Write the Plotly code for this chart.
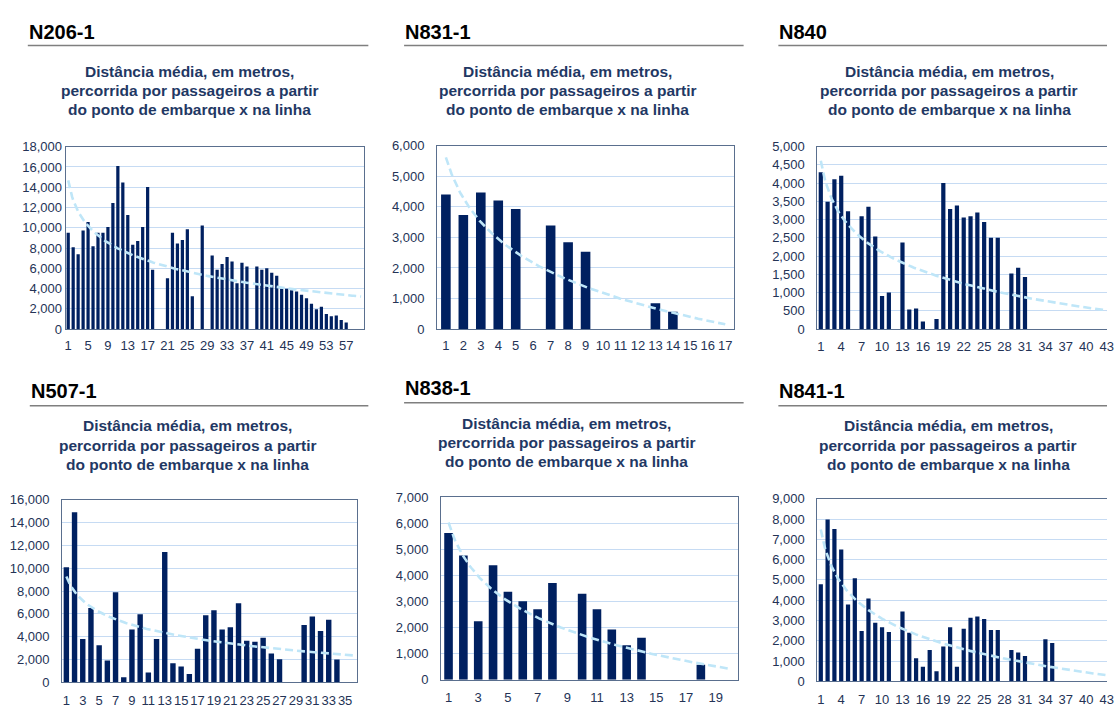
import numpy as np
import plotly.graph_objects as go

# ---------------- data ----------------
route_names = ["N206-1", "N831-1", "N840", "N507-1", "N838-1", "N841-1"]
subtitle_lines = ["Distância média, em metros,",
                  "percorrida por passageiros a partir",
                  "do ponto de embarque x na linha"]

n206_1 = [9500, 8080, 7375, 9725, 10560, 8180, 9500, 9500, 10080, 12430,
          16100, 14460, 11270, 8310, 8700, 10080, 14010, 5860, 0, 0,
          5020, 9500, 8440, 8790, 9850, 3250, 0, 10210, 0, 7250,
          5860, 6410, 7120, 6670, 4510, 6540, 6180, 0, 6180, 5860,
          5990, 5570, 5250, 3990, 3990, 3830, 3700, 3380, 3030, 2510,
          1960, 2190, 1480, 1260, 1350, 900, 640, 0, 0, 0]
n831_1 = [4400, 3735, 4470, 4205, 3930, 0, 3385, 2840, 2530, 0,
          0, 0, 845, 565, 0, 0, 0]
n840 = [4300, 3490, 4105, 4200, 3230, 0, 3095, 3355, 2540, 905,
        1000, 0, 2370, 537, 565, 205, 0, 275, 4005, 3290,
        3390, 3060, 3095, 3195, 2935, 2505, 2505, 0, 1520, 1680,
        1430, 0, 0, 0, 0, 0, 0, 0, 0, 0,
        0, 0, 0, 0, 0]
n507_1 = [10080, 14910, 3800, 6510, 3260, 1910, 7890, 460, 4630, 5970,
          860, 3800, 11430, 1690, 1400, 740, 2940, 5890, 6310, 4630,
          4830, 6940, 3660, 3570, 3910, 2540, 2030, 0, 0, 5030,
          5770, 4510, 5490, 2000, 0, 0]
n838_1 = [5625, 4760, 2240, 4390, 3375, 3010, 2700, 3710, 0, 3300,
          2700, 1925, 1325, 1610, 0, 0, 0, 575, 0, 0]
n841_1 = [4790, 7975, 7510, 6495, 3795, 5080, 2490, 4085, 2895, 2670,
          2430, 0, 3440, 2395, 1140, 725, 1545, 500, 1720, 2670,
          725, 2600, 3135, 3200, 3070, 2540, 2540, 0, 1545, 1430,
          1255, 0, 0, 2075, 1900, 0, 0, 0, 0, 0,
          0, 0, 0, 0, 0]

ticks_n206_1 = [1, 5, 9, 13, 17, 21, 25, 29, 33, 37, 41, 45, 49, 53, 57]
ticks_n831_1 = [1, 2, 3, 4, 5, 6, 7, 8, 9, 10, 11, 12, 13, 14, 15, 16, 17]
ticks_n840 = [1, 4, 7, 10, 13, 16, 19, 22, 25, 28, 31, 34, 37, 40, 43]
ticks_n507_1 = [1, 3, 5, 7, 9, 11, 13, 15, 17, 19, 21, 23, 25, 27, 29, 31, 33, 35]
ticks_n838_1 = [1, 3, 5, 7, 9, 11, 13, 15, 17, 19]
ticks_n841_1 = [1, 4, 7, 10, 13, 16, 19, 22, 25, 28, 31, 34, 37, 40, 43]

y_max = [18000, 6000, 5000, 16000, 7000, 9000]
y_step = [2000, 1000, 500, 2000, 1000, 1000]

series = [n206_1, n831_1, n840, n507_1, n838_1, n841_1]
xticks = [ticks_n206_1, ticks_n831_1, ticks_n840, ticks_n507_1, ticks_n838_1, ticks_n841_1]

# ---------------- layout config (pixels) ----------------
W, H = 1114, 711
FONT = "Liberation Sans, Arial, sans-serif"
BAR = "#002060"
TREND = "#bfe6f8"
GRID = "#c6dbf3"
BORDER = "#5a6f8e"
TICKC = "#243356"
SUBC = "#1f3864"

# left, right, top, bottom of plot box
boxes = [(65.2, 365.2, 142.7, 329), (439.3, 738.3, 141.7, 329), (822.3, 1114, 142.7, 329),
         (61.7, 359, 503.3, 690), (443.3, 742.3, 500.7, 687.3), (822.3, 1114, 502.3, 689)]
x_end = [None, None, 43.05, None, None, 43.05]
bar_w = [0.65, 0.55, 0.62, 0.66, 0.58, 0.62]
y_standoff = [0, 9, 9, 9, 9, 9]
x_standoff = [4, 4, 5, 6, 5, 6]
right_border = [True, True, False, True, True, False]

# title positions: x_left, cap-center y, underline y, underline right end
titles = [(27, 25.5, 39.3, 370), (406, 25.5, 39.3, 748), (783, 25.5, 39.3, 1114),
          (29, 392, 407.3, 370), (406, 389, 404.3, 748), (783, 392, 407.3, 1114)]
sub_cx = [190, 571, 955, 188, 570, 954]
sub_y = [[65.5, 85.2, 104.5], [65.5, 85.2, 104.5], [65.5, 85.2, 104.5],
         [428, 447.5, 467], [425, 444.5, 464], [428, 447.5, 467]]


def px(x):
    return x / W


def py(y):
    return 1 - y / H


fig = go.Figure()
annotations = []
shapes = []

for i in range(6):
    k = "" if i == 0 else str(i + 1)
    vals = np.array(series[i], dtype=float)
    n = len(vals)
    cats = np.arange(1, n + 1)
    fig.add_trace(go.Bar(x=cats, y=vals, width=bar_w[i], marker=dict(color=BAR, line=dict(width=0)),
                         xaxis="x" + k, yaxis="y" + k, showlegend=False))
    # logarithmic trend line fitted to the bar data (as the spreadsheet trendline)
    b, a = np.polyfit(np.log(cats), vals, 1)
    xs = np.linspace(1, n, 300)
    fig.add_trace(go.Scatter(x=xs, y=a + b * np.log(xs), mode="lines",
                             line=dict(color=TREND, width=2.6, dash="8px,4px"),
                             xaxis="x" + k, yaxis="y" + k, showlegend=False, hoverinfo="skip"))
    l, r, t, btm = boxes[i]
    xr = [0.5, x_end[i] if x_end[i] else n + 0.5]
    fig.layout["xaxis" + k] = dict(domain=[px(l), min(px(r), 1)], range=xr, anchor="y" + k,
                                   tickmode="array", tickvals=xticks[i], tickangle=0,
                                   showgrid=False, zeroline=False,
                                   showline=True, linecolor=BORDER, linewidth=1.2, mirror=True,
                                   ticks="", ticklabelstandoff=x_standoff[i], ticklabeloverflow="allow",
                                   tickfont=dict(family=FONT, size=13, color=TICKC), fixedrange=True)
    fig.layout["yaxis" + k] = dict(domain=[py(btm), py(t)], range=[0, y_max[i]], dtick=y_step[i],
                                   anchor="x" + k, tickformat=",d", showgrid=True, gridcolor=GRID,
                                   gridwidth=1, zeroline=False, showline=True, linecolor=BORDER,
                                   linewidth=1.2, mirror=right_border[i], ticks="",
                                   ticklabelstandoff=y_standoff[i],
                                   tickfont=dict(family=FONT, size=13, color=TICKC), fixedrange=True)
    tx, ty, uy, ux = titles[i]
    annotations.append(dict(text="<b>%s</b>" % route_names[i], x=px(tx), y=py(ty), xref="paper",
                            yref="paper", xanchor="left", yanchor="middle", showarrow=False,
                            borderpad=0, font=dict(family=FONT, size=20, color="#000000")))
    shapes.append(dict(type="line", xref="paper", yref="paper", x0=px(tx), x1=px(ux),
                       y0=py(uy), y1=py(uy), line=dict(color="#7f7f7f", width=1.5)))
    for j, line_txt in enumerate(subtitle_lines):
        annotations.append(dict(text="<b>%s</b>" % line_txt, x=px(sub_cx[i]), y=py(sub_y[i][j]),
                                xref="paper", yref="paper", xanchor="center", yanchor="middle",
                                showarrow=False, font=dict(family=FONT, size=15.5, color=SUBC)))

fig.update_layout(width=W, height=H, margin=dict(l=0, r=0, t=0, b=0, pad=0),
                  paper_bgcolor="white", plot_bgcolor="white", bargap=0.3,
                  annotations=annotations, shapes=shapes, showlegend=False)

fig.write_html("out.html", config={"displayModeBar": False})
